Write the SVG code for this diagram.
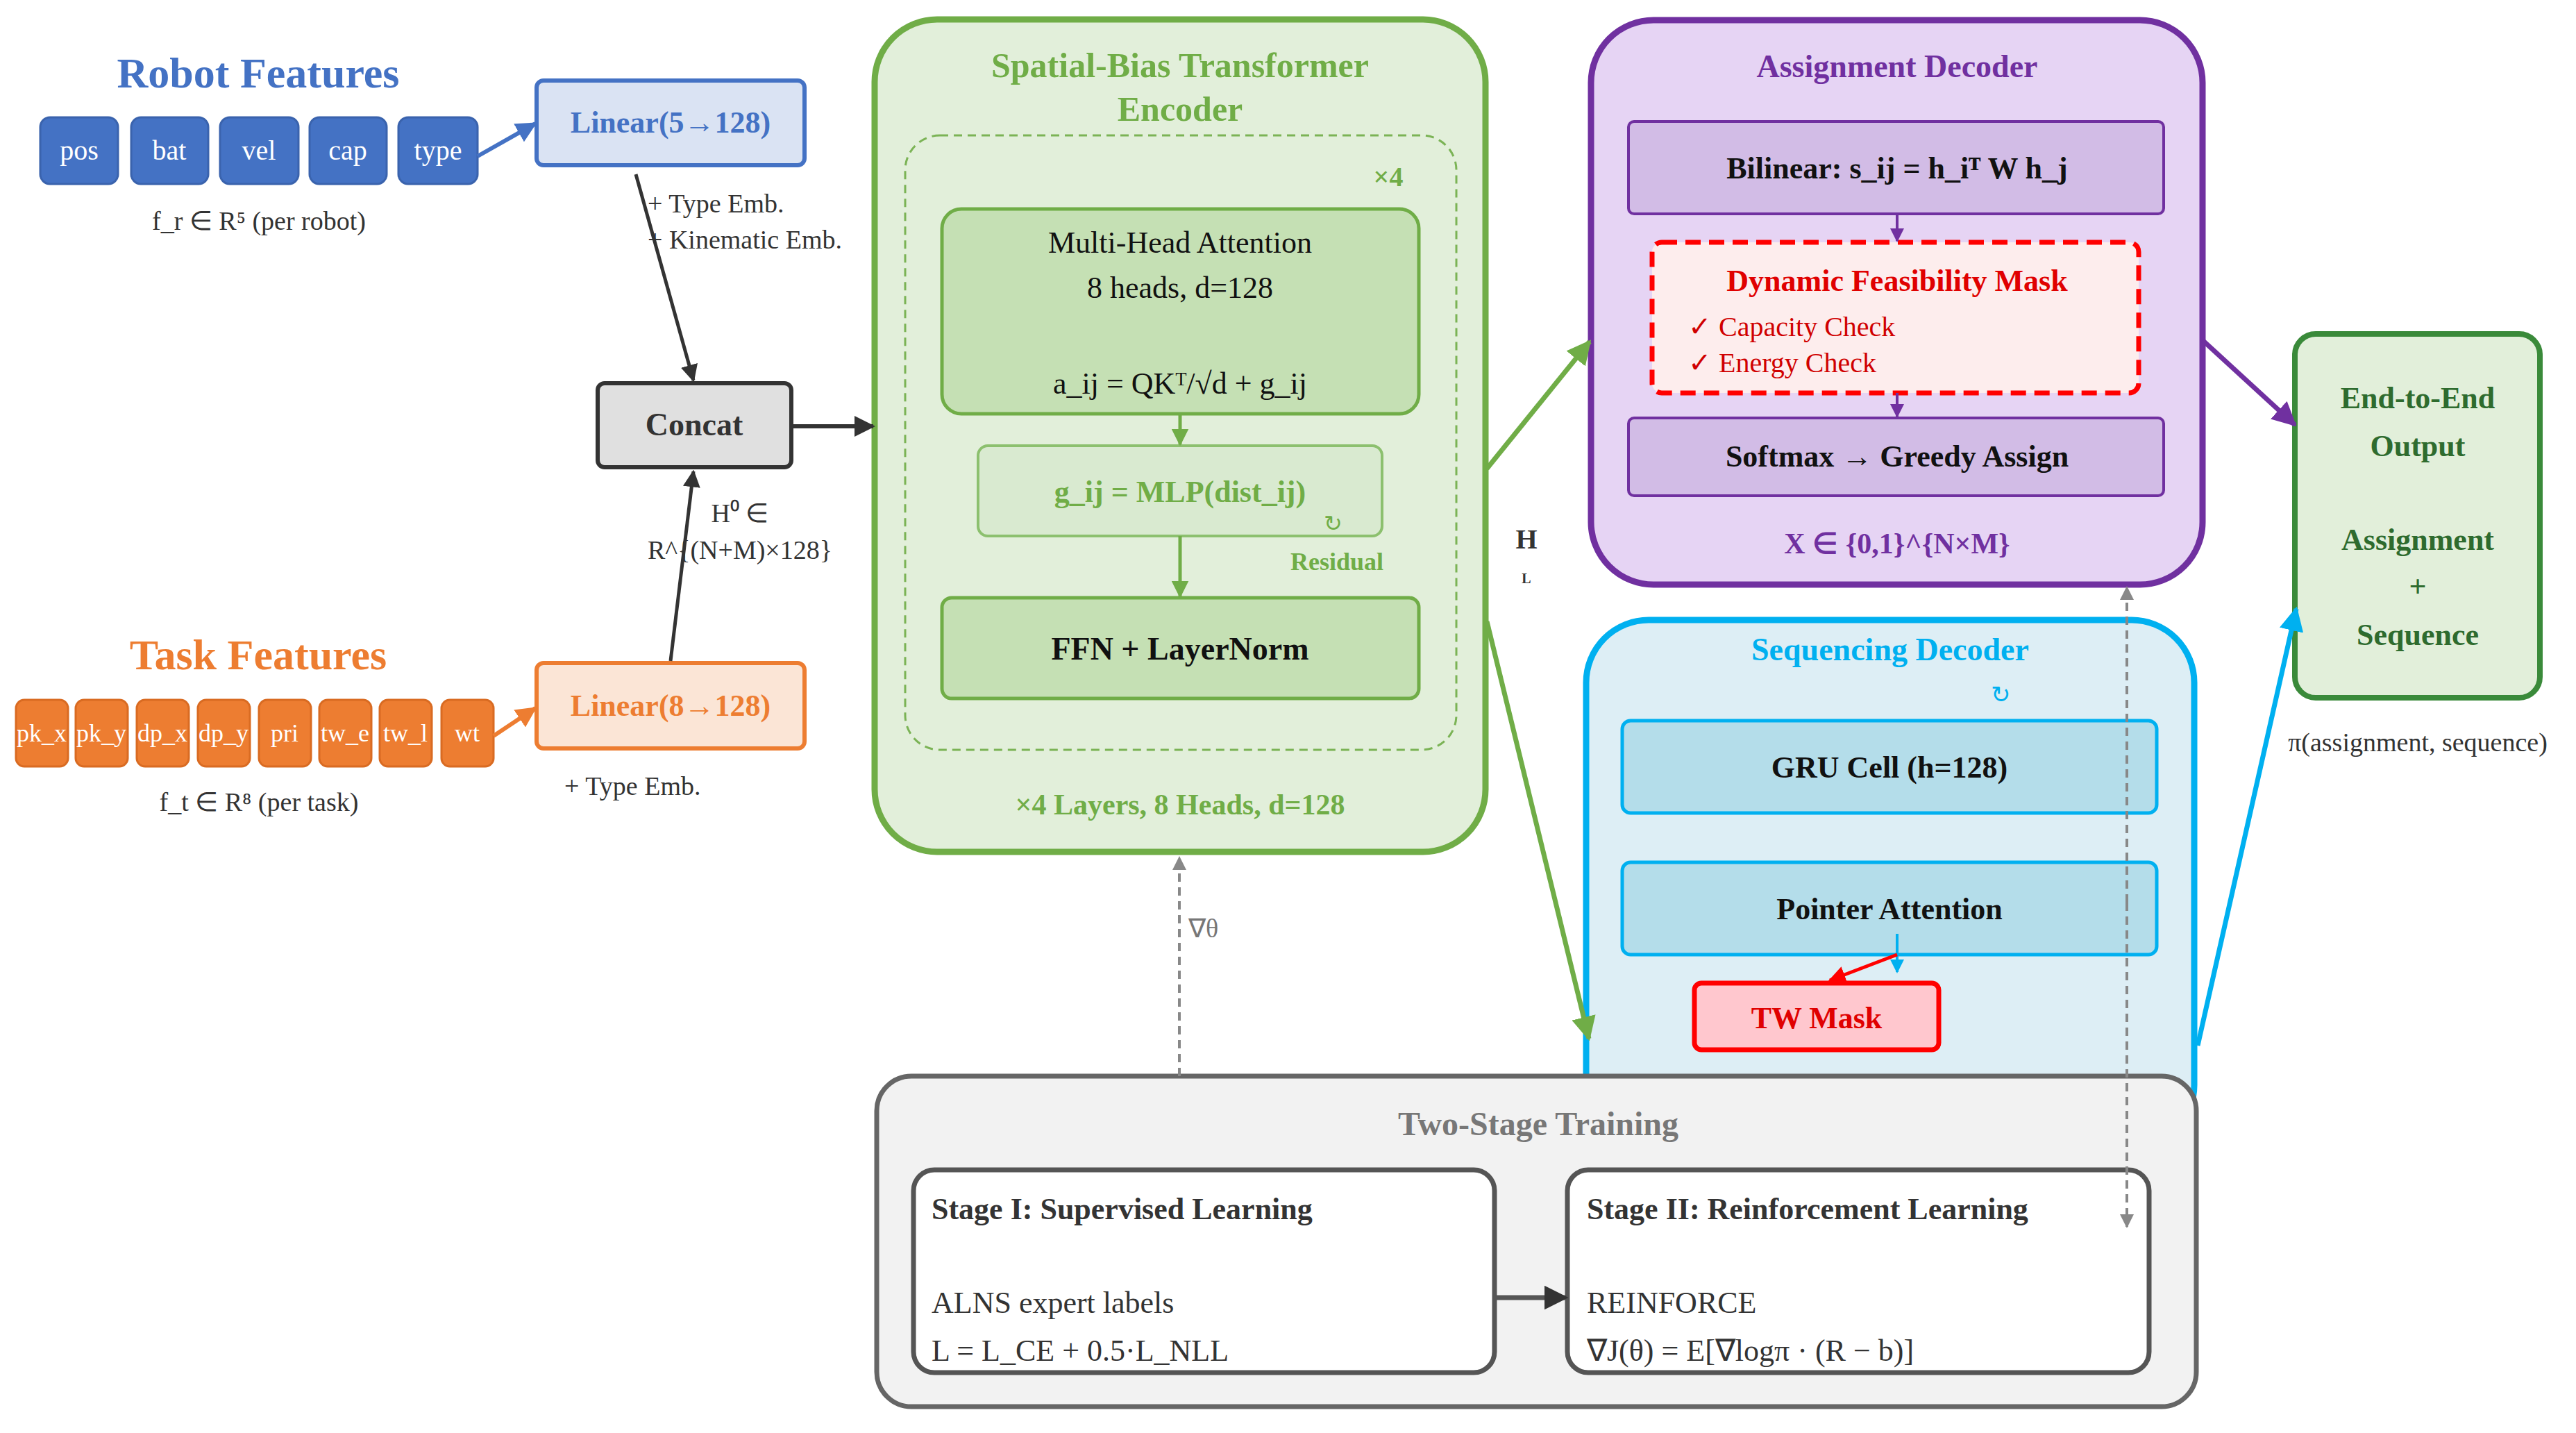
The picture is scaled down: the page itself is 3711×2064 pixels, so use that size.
<svg xmlns="http://www.w3.org/2000/svg" width="3711" height="2064" viewBox="0 0 3711 2064">
<defs>
<style>
text{font-family:"Liberation Serif","Times New Roman",serif;text-anchor:middle}
.b{font-weight:bold}
.chipR{fill:#4472C4;stroke:#3A63AD;stroke-width:3}
.chipT{fill:#ED7D31;stroke:#D96B22;stroke-width:3}
.ct{fill:#fff;font-size:40px}
.ctt{fill:#fff;font-size:36px}
.gr{fill:#C5E0B4;stroke:#70AD47;stroke-width:5}
.pu{fill:#D2BCE6;stroke:#7030A0;stroke-width:4}
.cy{fill:#B4DDEA;stroke:#00B0F0;stroke-width:5}
.wb{fill:#fff;stroke:#555;stroke-width:7}
</style>
<marker id="aK" viewBox="0 0 10 10" refX="9" refY="5" markerWidth="5" markerHeight="5" orient="auto"><path d="M0,0L10,5L0,10z" fill="#333"/></marker>
<marker id="aB" viewBox="0 0 10 10" refX="9" refY="5" markerWidth="5" markerHeight="5" orient="auto"><path d="M0,0L10,5L0,10z" fill="#4472C4"/></marker>
<marker id="aO" viewBox="0 0 10 10" refX="9" refY="5" markerWidth="5" markerHeight="5" orient="auto"><path d="M0,0L10,5L0,10z" fill="#ED7D31"/></marker>
<marker id="aG" viewBox="0 0 10 10" refX="9" refY="5" markerWidth="5" markerHeight="5" orient="auto"><path d="M0,0L10,5L0,10z" fill="#70AD47"/></marker>
<marker id="aP" viewBox="0 0 10 10" refX="9" refY="5" markerWidth="5" markerHeight="5" orient="auto"><path d="M0,0L10,5L0,10z" fill="#7030A0"/></marker>
<marker id="aC" viewBox="0 0 10 10" refX="9" refY="5" markerWidth="5" markerHeight="5" orient="auto"><path d="M0,0L10,5L0,10z" fill="#00B0F0"/></marker>
<marker id="aR" viewBox="0 0 10 10" refX="9" refY="5" markerWidth="5" markerHeight="5" orient="auto"><path d="M0,0L10,5L0,10z" fill="#FF0000"/></marker>
<marker id="aY" viewBox="0 0 10 10" refX="9" refY="5" markerWidth="5" markerHeight="5" orient="auto"><path d="M0,0L10,5L0,10z" fill="#888"/></marker>
</defs>
<rect width="3711" height="2064" fill="#fff"/>

<g id="robot-features">
<text x="372" y="126" class="b" font-size="62" fill="#4472C4">Robot Features</text>
<rect class="chipR" x="58" y="169" width="112" height="96" rx="14"/><text class="ct" x="114" y="230">pos</text>
<rect class="chipR" x="189" y="169" width="111" height="96" rx="14"/><text class="ct" x="244" y="230">bat</text>
<rect class="chipR" x="317" y="169" width="113" height="96" rx="14"/><text class="ct" x="373" y="230">vel</text>
<rect class="chipR" x="446" y="169" width="111" height="96" rx="14"/><text class="ct" x="501" y="230">cap</text>
<rect class="chipR" x="574" y="169" width="114" height="96" rx="14"/><text class="ct" x="631" y="230">type</text>
<text x="373" y="331" font-size="38" fill="#333">f_r ∈ R⁵ (per robot)</text>
</g>

<g id="task-features">
<text x="372" y="964" class="b" font-size="62" fill="#ED7D31">Task Features</text>
<rect class="chipT" x="23" y="1008" width="75" height="96" rx="12"/><text class="ctt" x="60" y="1068">pk_x</text>
<rect class="chipT" x="109" y="1008" width="75" height="96" rx="12"/><text class="ctt" x="146" y="1068">pk_y</text>
<rect class="chipT" x="197" y="1008" width="75" height="96" rx="12"/><text class="ctt" x="234" y="1068">dp_x</text>
<rect class="chipT" x="285" y="1008" width="75" height="96" rx="12"/><text class="ctt" x="322" y="1068">dp_y</text>
<rect class="chipT" x="373" y="1008" width="75" height="96" rx="12"/><text class="ctt" x="410" y="1068">pri</text>
<rect class="chipT" x="460" y="1008" width="75" height="96" rx="12"/><text class="ctt" x="497" y="1068">tw_e</text>
<rect class="chipT" x="547" y="1008" width="75" height="96" rx="12"/><text class="ctt" x="584" y="1068">tw_l</text>
<rect class="chipT" x="636" y="1008" width="75" height="96" rx="12"/><text class="ctt" x="673" y="1068">wt</text>
<text x="373" y="1168" font-size="38" fill="#333">f_t ∈ R⁸ (per task)</text>
</g>

<g id="linear-robot">
<rect x="773" y="116" width="386" height="122" rx="10" fill="#DAE3F3" stroke="#4472C4" stroke-width="6"/>
<text x="966" y="191" class="b" font-size="44" fill="#4472C4">Linear(5→128)</text>
</g>
<g id="linear-task">
<rect x="773" y="955" width="386" height="123" rx="10" fill="#FBE5D6" stroke="#ED7D31" stroke-width="6"/>
<text x="966" y="1031" class="b" font-size="44" fill="#ED7D31">Linear(8→128)</text>
</g>
<g id="concat">
<rect x="861" y="552" width="279" height="121" rx="10" fill="#E0E0E0" stroke="#333" stroke-width="6"/>
<text x="1000" y="627" class="b" font-size="46" fill="#333">Concat</text>
</g>

<g id="encoder">
<rect x="1260" y="28" width="880" height="1199" rx="90" fill="#E2EFDA" stroke="#70AD47" stroke-width="9"/>
<text x="1700" y="111" class="b" font-size="50" fill="#70AD47">Spatial-Bias Transformer</text>
<text x="1700" y="174" class="b" font-size="50" fill="#70AD47">Encoder</text>
<rect x="1304" y="195" width="794" height="885" rx="50" fill="#E2EFDA" stroke="#70AD47" stroke-width="3" stroke-dasharray="12,8" opacity="0.9"/>
<text x="2000" y="268" class="b" font-size="40" fill="#70AD47">×4</text>
<rect class="gr" x="1357" y="301" width="687" height="295" rx="28"/>
<text x="1700" y="364" font-size="44" fill="#111">Multi-Head Attention</text>
<text x="1700" y="429" font-size="44" fill="#111">8 heads, d=128</text>
<text x="1700" y="567" font-size="44" fill="#111">a_ij = QKᵀ/√d + g_ij</text>
<rect x="1409" y="642" width="582" height="130" rx="14" fill="#D9EAD0" stroke="#8CC06E" stroke-width="4"/>
<text x="1700" y="723" class="b" font-size="44" fill="#70AD47">g_ij = MLP(dist_ij)</text>
<text x="1920" y="765" font-size="32" fill="#70AD47">↻</text>
<text x="1926" y="821" class="b" font-size="36" fill="#70AD47">Residual</text>
<rect class="gr" x="1357" y="861" width="687" height="145" rx="14"/>
<text x="1700" y="950" class="b" font-size="46" fill="#111">FFN + LayerNorm</text>
<text x="1700" y="1173" class="b" font-size="42" fill="#70AD47">×4 Layers, 8 Heads, d=128</text>
</g>

<g id="hl-label">
<text x="2199" y="790" class="b" font-size="40" fill="#333">H</text>
<text x="2199" y="840" class="b" font-size="20" fill="#333">L</text>
</g>

<g id="assignment-decoder">
<rect x="2292" y="29" width="881" height="813" rx="90" fill="#E6D4F4" stroke="#7030A0" stroke-width="9"/>
<text x="2733" y="111" class="b" font-size="46" fill="#7030A0">Assignment Decoder</text>
<rect class="pu" x="2346" y="175" width="771" height="133" rx="8"/>
<text x="2733" y="257" class="b" font-size="44" fill="#111">Bilinear: s_ij = h_iᵀ W h_j</text>
<rect x="2380" y="349" width="701" height="217" rx="14" fill="#FDEDED" stroke="#FF0000" stroke-width="7" stroke-dasharray="22,12"/>
<text x="2733" y="419" class="b" font-size="44" fill="#E00000">Dynamic Feasibility Mask</text>
<text x="2432" y="484" font-size="40" fill="#D00000" style="text-anchor:start">✓ Capacity Check</text>
<text x="2432" y="536" font-size="40" fill="#D00000" style="text-anchor:start">✓ Energy Check</text>
<rect class="pu" x="2346" y="602" width="771" height="112" rx="8"/>
<text x="2733" y="672" class="b" font-size="44" fill="#111">Softmax → Greedy Assign</text>
<text x="2733" y="797" class="b" font-size="42" fill="#7030A0">X ∈ {0,1}^{N×M}</text>
</g>

<g id="sequencing-decoder">
<rect x="2285" y="893" width="876" height="760" rx="90" fill="#DDEEF5" stroke="#00B0F0" stroke-width="9"/>
<text x="2723" y="951" class="b" font-size="46" fill="#00B0F0">Sequencing Decoder</text>
<text x="2882" y="1012" font-size="34" fill="#00B0F0">↻</text>
<text x="2891" y="1066" class="b" font-size="36" fill="#00B0F0">Autoregressive</text>
<rect class="cy" x="2337" y="1038" width="770" height="133" rx="12"/>
<text x="2722" y="1120" class="b" font-size="44" fill="#111">GRU Cell (h=128)</text>
<rect class="cy" x="2337" y="1242" width="770" height="133" rx="12"/>
<text x="2722" y="1324" class="b" font-size="44" fill="#111">Pointer Attention</text>
<rect x="2441" y="1416" width="352" height="96" rx="10" fill="#FFC7CE" stroke="#FF0000" stroke-width="7"/>
<text x="2617" y="1481" class="b" font-size="44" fill="#E00000">TW Mask</text>
</g>

<g id="output">
<rect x="3306" y="481" width="353" height="524" rx="30" fill="#E2EFDA" stroke="#3A8A3A" stroke-width="8"/>
<text x="3483" y="588" class="b" font-size="44" fill="#2E6B2E">End-to-End</text>
<text x="3483" y="657" class="b" font-size="44" fill="#2E6B2E">Output</text>
<text x="3483" y="792" class="b" font-size="44" fill="#2E6B2E">Assignment</text>
<text x="3483" y="859" class="b" font-size="44" fill="#2E6B2E">+</text>
<text x="3483" y="929" class="b" font-size="44" fill="#2E6B2E">Sequence</text>
<text x="3483" y="1082" font-size="38" fill="#333">π(assignment, sequence)</text>
</g>

<g id="training">
<rect x="1263" y="1550" width="1901" height="476" rx="50" fill="#F2F2F2" stroke="#666" stroke-width="7"/>
<text x="2216" y="1635" class="b" font-size="48" fill="#777">Two-Stage Training</text>
<rect class="wb" x="1316" y="1685" width="837" height="292" rx="30"/>
<text x="1342" y="1756" class="b" font-size="44" fill="#333" style="text-anchor:start">Stage I: Supervised Learning</text>
<text x="1342" y="1891" font-size="44" fill="#333" style="text-anchor:start">ALNS expert labels</text>
<text x="1342" y="1960" font-size="44" fill="#333" style="text-anchor:start">L = L_CE + 0.5·L_NLL</text>
<rect class="wb" x="2258" y="1685" width="838" height="292" rx="30"/>
<text x="2286" y="1756" class="b" font-size="44" fill="#333" style="text-anchor:start">Stage II: Reinforcement Learning</text>
<text x="2286" y="1891" font-size="44" fill="#333" style="text-anchor:start">REINFORCE</text>
<text x="2286" y="1960" font-size="44" fill="#333" style="text-anchor:start">∇J(θ) = E[∇logπ · (R − b)]</text>
</g>

<g id="connectors" fill="none">
<line x1="688" y1="225" x2="771" y2="178" stroke="#4472C4" stroke-width="6" marker-end="url(#aB)"/>
<line x1="711" y1="1060" x2="771" y2="1020" stroke="#ED7D31" stroke-width="6" marker-end="url(#aO)"/>
<line x1="916" y1="251" x2="999" y2="548" stroke="#333" stroke-width="5" marker-end="url(#aK)"/>
<line x1="966" y1="952" x2="999" y2="679" stroke="#333" stroke-width="5" marker-end="url(#aK)"/>
<line x1="1140" y1="614" x2="1258" y2="614" stroke="#333" stroke-width="6" marker-end="url(#aK)"/>
<line x1="1700" y1="596" x2="1700" y2="640" stroke="#70AD47" stroke-width="5" marker-end="url(#aG)"/>
<line x1="1700" y1="772" x2="1700" y2="859" stroke="#70AD47" stroke-width="5" marker-end="url(#aG)"/>
<line x1="2142" y1="675" x2="2290" y2="492" stroke="#70AD47" stroke-width="7" marker-end="url(#aG)"/>
<line x1="2142" y1="895" x2="2289" y2="1496" stroke="#70AD47" stroke-width="7" marker-end="url(#aG)"/>
<line x1="2733" y1="308" x2="2733" y2="347" stroke="#7030A0" stroke-width="4" marker-end="url(#aP)"/>
<line x1="2733" y1="566" x2="2733" y2="600" stroke="#7030A0" stroke-width="4" marker-end="url(#aP)"/>
<line x1="3173" y1="490" x2="3306" y2="612" stroke="#7030A0" stroke-width="7" marker-end="url(#aP)"/>
<line x1="3166" y1="1506" x2="3308" y2="877" stroke="#00B0F0" stroke-width="7" marker-end="url(#aC)"/>
<line x1="2733" y1="1345" x2="2733" y2="1400" stroke="#00B0F0" stroke-width="4" marker-end="url(#aC)"/>
<line x1="2733" y1="1375" x2="2636" y2="1412" stroke="#FF0000" stroke-width="5" marker-end="url(#aR)"/>
<line x1="1699" y1="1550" x2="1699" y2="1235" stroke="#888" stroke-width="4" stroke-dasharray="12,8" marker-end="url(#aY)"/>
<line x1="3064" y1="1300" x2="3064" y2="846" stroke="#888" stroke-width="4" stroke-dasharray="12,8" marker-end="url(#aY)"/>
<line x1="3064" y1="1300" x2="3064" y2="1767" stroke="#888" stroke-width="4" stroke-dasharray="12,8" marker-end="url(#aY)"/>
<line x1="2153" y1="1869" x2="2256" y2="1869" stroke="#555" stroke-width="7" marker-end="url(#aK)"/>
</g>

<g id="connector-labels">
<text x="933" y="306" font-size="38" fill="#333" style="text-anchor:start">+ Type Emb.</text>
<text x="933" y="358" font-size="38" fill="#333" style="text-anchor:start">+ Kinematic Emb.</text>
<text x="1066" y="752" font-size="38" fill="#333">H⁰ ∈</text>
<text x="1066" y="805" font-size="38" fill="#333">R^{(N+M)×128}</text>
<text x="813" y="1145" font-size="38" fill="#333" style="text-anchor:start">+ Type Emb.</text>
<text x="1712" y="1350" font-size="38" fill="#777" style="text-anchor:start">∇θ</text>
</g>
</svg>
